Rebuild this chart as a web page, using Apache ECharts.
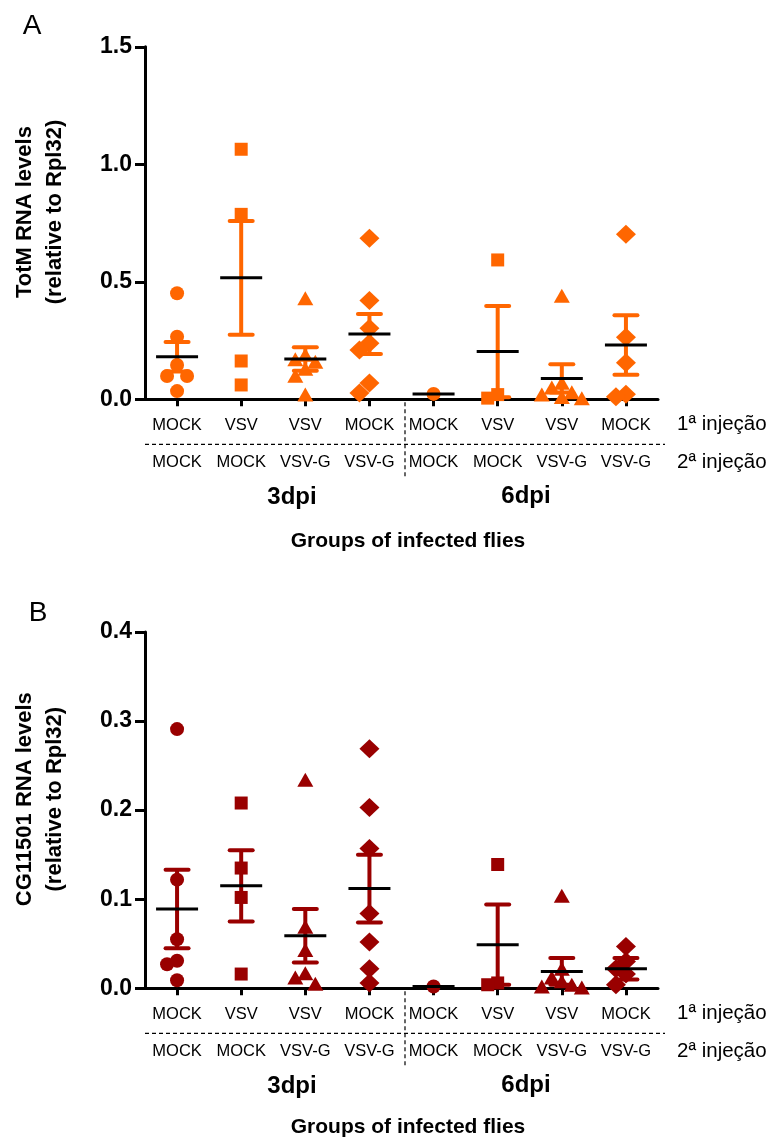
<!DOCTYPE html>
<html>
<head>
<meta charset="utf-8">
<title>TotM / CG11501</title>
<script src="https://cdn.jsdelivr.net/npm/echarts@6/dist/echarts.min.js"></script>
<style>
  html, body { margin: 0; padding: 0; background: #fff; }
  #chart { width: 773px; height: 1137px; }
</style>
</head>
<body>
<div id="chart"></div>
<script>
// 分组标签
const firstInjection = ['MOCK', 'VSV', 'VSV', 'MOCK', 'MOCK', 'VSV', 'VSV', 'MOCK'];
const secondInjection = ['MOCK', 'MOCK', 'VSV-G', 'VSV-G', 'MOCK', 'MOCK', 'VSV-G', 'VSV-G'];
const injectionNames = ['1ª injeção', '2ª injeção'];
const timeLabels = ['3dpi', '6dpi'];
const groupSymbols = ['circle', 'rect', 'triangle', 'diamond', 'circle', 'rect', 'triangle', 'diamond'];

// A: TotM
const totmTicks = [0, 0.5, 1.0, 1.5];
const totmPoints = [
  [0.451, 0.266, 0.146, 0.099, 0.099, 0.035],
  [1.064, 0.787, 0.163, 0.061],
  [0.43, 0.19, 0.17, 0.16, 0.13, 0.10, 0.02],
  [0.685, 0.42, 0.302, 0.238, 0.21, 0.069, 0.027],
  [0.023],
  [0.593, 0.020, 0.005],
  [0.441, 0.07, 0.05, 0.03, 0.02, 0.01, 0.005],
  [0.702, 0.264, 0.156, 0.021, 0.011]
];
const totmMean = [0.181, 0.517, 0.171, 0.278, 0.023, 0.203, 0.089, 0.231];
const totmSem = [0.063, 0.242, 0.050, 0.085, 0, 0.194, 0.060, 0.127];

// B: CG11501
const cgTicks = [0, 0.1, 0.2, 0.3, 0.4];
const cgPoints = [
  [0.291, 0.122, 0.055, 0.031, 0.027, 0.009],
  [0.208, 0.135, 0.102, 0.016],
  [0.234, 0.069, 0.043, 0.017, 0.012, 0.005],
  [0.269, 0.203, 0.157, 0.084, 0.052, 0.022, 0.006],
  [0.002],
  [0.139, 0.006, 0.004],
  [0.104, 0.022, 0.012, 0.008, 0.004, 0.002, 0.001],
  [0.047, 0.030, 0.022, 0.016, 0.004]
];
const cgMean = [0.089, 0.115, 0.059, 0.112, 0.002, 0.049, 0.019, 0.022];
const cgSem = [0.044, 0.040, 0.030, 0.038, 0, 0.045, 0.015, 0.012];

const FONT = '"Liberation Sans", Arial, sans-serif';

// 两个面板的位置
const panels = [
  { top: 46.8, height: 352.5, ticks: totmTicks, points: totmPoints, mean: totmMean, sem: totmSem,
    color: '#ff6600', letter: 'A', title: 'TotM RNA levels\n(relative to Rpl32)', groupsGap: 142 },
  { top: 632, height: 356.3, ticks: cgTicks, points: cgPoints, mean: cgMean, sem: cgSem,
    color: '#990000', letter: 'B', title: 'CG11501 RNA levels\n(relative to Rpl32)', groupsGap: 139 }
];
const gridLeft = 145;
const gridWidth = 513;

const symbolSizes = { circle: 14, rect: 13, triangle: [16, 14], diamond: [20, 19] };

// 点太近时分到左右的列里（像素）
function spread(values, pxPerUnit, minDy, step) {
  const order = values.map((v, i) => i).sort((a, b) => values[b] - values[a]);
  const slots = {};
  const offs = new Array(values.length).fill(0);
  order.forEach(idx => {
    const y = values[idx] * pxPerUnit;
    const tries = [0, -1, 1, -2, 2];
    let pick = tries[tries.length - 1];
    for (const k of tries) {
      const col = slots[k] || [];
      if (col.every(py => Math.abs(py - y) >= minDy)) { pick = k; break; }
    }
    (slots[pick] = slots[pick] || []).push(y);
    offs[idx] = pick * step;
  });
  return offs;
}

const grid = [], xAxis = [], yAxis = [], series = [], graphic = [];

panels.forEach((p, pi) => {
  const yMax = p.ticks[p.ticks.length - 1];
  const bottom = p.top + p.height;
  const pxPerUnit = p.height / yMax;
  grid.push({ left: gridLeft, top: p.top, width: gridWidth, height: p.height });

  // 第一行标签 + 轴线
  xAxis.push({
    type: 'category', gridIndex: pi, position: 'bottom', data: firstInjection,
    axisLine: { show: true, lineStyle: { color: '#000', width: 3 } },
    axisTick: { show: true, alignWithLabel: true, length: 7, lineStyle: { color: '#000', width: 3 } },
    axisLabel: { interval: 0, margin: 18, fontSize: 16.5, color: '#000', fontFamily: FONT },
    splitLine: { show: false }
  });
  // 第二行标签
  xAxis.push({
    type: 'category', gridIndex: pi, position: 'bottom', data: secondInjection,
    axisLine: { show: false }, axisTick: { show: false },
    axisLabel: { interval: 0, margin: 55, fontSize: 16.5, color: '#000', fontFamily: FONT },
    splitLine: { show: false }
  });
  yAxis.push({
    type: 'value', gridIndex: pi, min: p.ticks[0], max: yMax, interval: p.ticks[1] - p.ticks[0],
    axisLine: { show: true, lineStyle: { color: '#000', width: 3 } },
    axisTick: { show: true, length: 10, lineStyle: { color: '#000', width: 3 } },
    axisLabel: { margin: 13, fontSize: 23, fontWeight: 'bold', color: '#000', fontFamily: FONT,
      formatter: v => v.toFixed(1) },
    splitLine: { show: false }
  });

  const xi = pi * 2;
  const color = p.color;

  // 误差线 (SEM)
  series.push({
    type: 'custom', xAxisIndex: xi, yAxisIndex: pi, z: 2, silent: true,
    data: p.mean.map((m, i) => [i, m, p.sem[i]]),
    renderItem: function (params, api) {
      const i = api.value(0), m = api.value(1), s = api.value(2);
      if (!s) return null;
      const top = api.coord([i, m + s]);
      const bot = api.coord([i, Math.max(m - s, 0)]);
      const half = 11.5;
      const st = { stroke: color, lineWidth: 4, lineCap: 'round' };
      return {
        type: 'group', children: [
          { type: 'line', shape: { x1: top[0], y1: top[1], x2: bot[0], y2: bot[1] }, style: { stroke: color, lineWidth: 4 } },
          { type: 'line', shape: { x1: top[0] - half, y1: top[1], x2: top[0] + half, y2: top[1] }, style: st },
          { type: 'line', shape: { x1: bot[0] - half, y1: bot[1], x2: bot[0] + half, y2: bot[1] }, style: st }
        ]
      };
    }
  });

  // 散点
  p.points.forEach((vals, g) => {
    const sym = groupSymbols[g];
    const offs = spread(vals, pxPerUnit, 12, 10);
    series.push({
      type: 'scatter', xAxisIndex: xi, yAxisIndex: pi, z: 3, silent: true,
      symbol: sym, symbolSize: symbolSizes[sym],
      itemStyle: { color: color, opacity: 1 },
      data: vals.map((v, k) => ({ value: [g, v], symbolOffset: [offs[k], 0] }))
    });
  });

  // 平均值横线
  series.push({
    type: 'custom', xAxisIndex: xi, yAxisIndex: pi, z: 4, silent: true,
    data: p.mean.map((m, i) => [i, m]),
    renderItem: function (params, api) {
      const c = api.coord([api.value(0), api.value(1)]);
      return { type: 'line', shape: { x1: c[0] - 21, y1: c[1], x2: c[0] + 21, y2: c[1] },
        style: { stroke: '#000', lineWidth: 3 } };
    }
  });

  // 文字和虚线
  graphic.push({ type: 'text', x: pi === 0 ? 32 : 38, y: p.top - 21 + pi * 2,
    style: { text: p.letter, font: '28px ' + FONT, fill: '#000', align: 'center', verticalAlign: 'middle' } });
  graphic.push({ type: 'text', x: 40, y: (p.top + bottom) / 2 - 11, rotation: Math.PI / 2,
    style: { text: p.title, font: 'bold 22px ' + FONT, fill: '#000', align: 'center', verticalAlign: 'middle', lineHeight: 30 } });
  graphic.push({ type: 'text', x: 677, y: bottom + 25,
    style: { text: injectionNames[0], font: '20.5px ' + FONT, fill: '#000', align: 'left', verticalAlign: 'middle' } });
  graphic.push({ type: 'text', x: 677, y: bottom + 63,
    style: { text: injectionNames[1], font: '20.5px ' + FONT, fill: '#000', align: 'left', verticalAlign: 'middle' } });
  graphic.push({ type: 'line', shape: { x1: gridLeft, y1: bottom + 45, x2: 665, y2: bottom + 45 },
    style: { stroke: '#000', lineWidth: 1.2, lineDash: [4, 3] } });
  graphic.push({ type: 'line', shape: { x1: 405, y1: bottom + 3, x2: 405, y2: bottom + 78 },
    style: { stroke: '#000', lineWidth: 1.2, lineDash: [4, 3] } });
  graphic.push({ type: 'text', x: 292, y: bottom + 98,
    style: { text: timeLabels[0], font: 'bold 24px ' + FONT, fill: '#000', align: 'center', verticalAlign: 'middle' } });
  graphic.push({ type: 'text', x: 526, y: bottom + 97,
    style: { text: timeLabels[1], font: 'bold 24px ' + FONT, fill: '#000', align: 'center', verticalAlign: 'middle' } });
  graphic.push({ type: 'text', x: 408, y: bottom + p.groupsGap,
    style: { text: 'Groups of infected flies', font: 'bold 21px ' + FONT, fill: '#000', align: 'center', verticalAlign: 'middle' } });
});

const myChart = echarts.init(document.getElementById('chart'), null, { renderer: 'canvas' });
myChart.setOption({
  animation: false,
  backgroundColor: '#fff',
  grid: grid,
  xAxis: xAxis,
  yAxis: yAxis,
  series: series,
  graphic: graphic
});
</script>
</body>
</html>
